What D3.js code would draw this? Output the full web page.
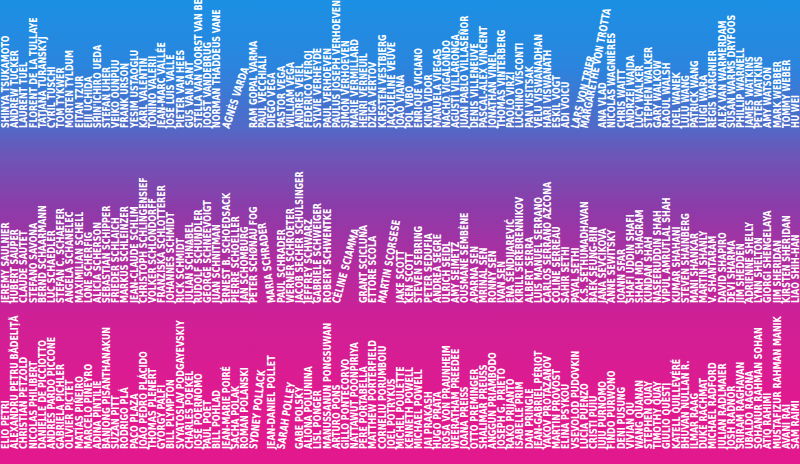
<!DOCTYPE html>
<html><head><meta charset="utf-8">
<script src="https://cdn.jsdelivr.net/npm/d3@7"></script>
<style>html,body{margin:0;padding:0;background:#e3188d;overflow:hidden}</style>
</head><body>
<svg id="c" width="800" height="464"></svg>
<script>
// ---- DATA: names per row, read left to right ("" = empty slot) ----
const topRow = ["SHINYA TSUKAMOTO","ANDREW TUCKER","LAURENT TUEL","FLORENT DE LA TULLAYE","TATJANA TURANSKYJ","CYRIL TUSCHI","TOM TYKWER","MORTEN TYLDUM","EITAN TZUR","EIJI UCHIDA","SHIN'ICHIRO UEDA","STEFAN UHER","VEIKO ÕUNPUU","FRANK URSON","YESIM USTAOĞLU","KARL VALENTIN","TONINO VALERII","JEAN-MARC VALLÉE","JOSÉ LUIS VALLE","PIETER VAN HEES","GUS VAN SANT","STELLA VAN VOORST VAN BEEST","JOOST VANDEBRUG","NORMAN THADDEUS VANE","AGNÈS VARDA","","","RAM GOPAL VARMA","PAUL VECCHIALI","DIEGO VEGA","PASTOR VEGA","WILLIAM VEGA","ANDRES VEIEL","FEDERICO VEIROJ","SYLVIE VERHEYDE","PAUL VERHOEVEN","PAULUS JOSEPH VERHOEVEN","SIMON VERHOEVEN","MARIE VERMILLARD","HENRI VERNEUIL","DZIGA VERTOV","KRESTEN VESTBJERG","JACQUELINE VEUVE","JOÃO VIANA","POL VIBO","ENRIQUE VICIANO","KING VIDOR","MANUELA VIEGAS","NACHO VIGALONDO","AGUSTÍ VILLARONGA","JUAN PABLO VILLASEÑOR","DENIS VILLENEUVE","PASCAL-ALEX VINCENT","JONATHAN VINEL","THOMAS VINTERBERG","PAOLO VIRZÌ","LUCHINO VISCONTI","PAN VISITSAK","VELU VISWANADHAN","HARI VISWANATH","ESKIL VOGT","ADI VOICU","LARS VON TRIER","MARGARETHE VON TROTTA","","ANA VLAD","NICOLAS WAGNIÈRES","CHRIS WAITT","ANDRZEJ WAJDA","LUCY WALKER","STEPHEN WALKER","GARY WALKOW","RAOUL WALSH","JOEL WANEK","LULU WANG","PATRICK WANG","LUIGI WARA","RÉGIS WARGNIER","ALEX VAN WARMERDAM","SUSAN WARMS DRYFOOS","PHILLIP WARNELL","JAMES WATKINS","PETER WATKINS","AMY WATSON","MARK WEBBER","TOMMY WEBER","HU WEI"];

const middleRow = ["JEREMY SAULNIER","HUBERT SAUPER","CLAUDE SAUTET","STEFANO SAVONA","BERND SCHAARMANN","LUC SCHAEDLER","STEFAN C. SCHAEFER","ANGELA SCHANELEC","MAXIMILIAN SCHELL","LONE SCHERFIG","ALICIA SCHERSON","SEBASTIAN SCHIPPER","FRIEDER SCHLAICH","MARKUS SCHLEINZER","JEAN-CLAUDE SCHLIM","CHRISTOPH SCHLINGENSIEF","VOLKER SCHLÖNDORFF","FRANZISKA SCHLOTTERER","JOHANNES SCHMIDT","RICK SCHMIDT","JULIAN SCHNABEL","RUDOLF SCHÜNDLER","GEORGE SCHNÉEVOIGT","JUAN SCHNITMAN","ERNEST B. SCHOEDSACK","PIERRE SCHOELLER","JAN SCHOMBURG","PETER SCHØNAU FOG","","MARIA SCHRADER","PAUL SCHRADER","WERNER SCHROETER","JACOB SECHER SCHULSINGER","JEFFREY SCHWARZ","GABRIELE SCHWEIGER","ROBERT SCHWENTKE","CÉLINE SCIAMMA","","","GRANT SCICLUNA","ETTORE SCOLA","MARTIN SCORSESE","","JAKE SCOTT","KEN SCOTT","STEVEN SEBRING","PETER SEDUFIA","ANDREA SEGRE","ULRICH SEIDL","AMY SEIMETZ","OUSMANE SEMBÈNE","APARNA SEN","MRINAL SEN","RONNY SEN","IVAN SEN","ENA ŠENDIJAREVIĆ","KIRILL SEREBRENNIKOV","ALBERT SERRA","LUIS MANUEL SERRANO","CARLOS SERRANO AZCONA","COLINE SERREAU","SAHIR SETHI","PAYAL SETHI","K.S. SETHUMADHAVAN","BAEK SEUNG-BIN","JANA ŠEVČÍKOVÁ","ANNE SEWITSKY","JOANN SFAR","SHAFI UDDIN SHAFI","SHAH MD. SHAGRAM","KUNDAN SHAH","NASEERUDDIN SHAH","VIPUL AMRUTLAL SHAH","KUMAR SHAHANI","STEVEN SHAINBERG","MANI SHANKAR","MARTIN SHANLY","V. SHANTARAM","DAVID SHAPIRO","DEVI SHARMA","JIM SHEDDEN","ADRIENNE SHELLY","LYNN SHELTON","GIORGI SHENGELAYA","JIM SHERIDAN","KIRSTEN SHERIDAN","LIAO SHIH-HAN"];

const bottomRow = ["ELIO PETRI","ALEXANDRU PETRU BĂDELIŢĂ","CHRISTIAN PETZOLD","NICOLAS PHILIBERT","DANIELLE DE PICCIOTTO","ANDRÉS PARDO PICCONE","GABRIELA PICHLER","OLIVIER PICTET","MATÍAS PIÑEIRO","MARCELO PIÑEYRO","ADINA PINTILIE","BANJONG PISANTHANAKUN","SUZAN PITT","RODRIGO PLÁ","PACO PLAZA","JOÃO PEDRO PLÁCIDO","THOMAS PLENERT","GYÖRGY PÁLFI","BILL PLYMPTON","SVYATOSLAV PODGAYEVSKIY","CHARLES POEKEL","JOSÉ POERNOMO","PAUL POET","BILL POHLAD","JEAN-MARIE POIRÉ","SACHA POLAK","ROMAN POLANSKI","SYDNEY POLLACK","","JEAN-DANIEL POLLET","SARAH POLLEY","","GABE POLSKY","ALIONA POLUNINA","LISL PONGER","MANUSSANUN PONGSUWAN","ARTURO PONS","GILLO PONTECORVO","NATTAWUT POONPIRIYA","PERE PORTABELLA","MATTHEW PORTERFIELD","CORNELIU PORUMBOIU","JOEL POTRYKUS","MICHEL POULETTE","KENNETH POWELL","MICHAEL POWELL","JAI PRAKASH","HUGO PRATA","ROSA VON PRAUNHEIM","WEERATHAM PREEDEE","JOANA PREISS","OTTO PREMINGER","SHALIMAR PREUSS","ANGGUN PRIAMBODO","JOSEPH G. PRIETO","RAKO PRIJANTO","ISABELLE PRIM","DAN PRINGLE","JEAN-GABRIEL PÉRIOT","YAKOV PROTAZANOV","MARTIN PROVOST","ELINA PSYKOU","VSEVOLOD PUDOVKIN","LUCÍA PUENZO","CRISTI PUIU","JUJU PURNOMO","FINDO PURWONO","DENI PUSUNG","VIVIAN QU","WANG QUANAN","STEPHEN QUAY","TIMOTHY QUAY","GIULIO QUESTI","KATELL QUILLÉVÉRÉ","BHUVAN NULLAN R.","ILMAR RAAG","DUKE RACHMAT","MICHAEL RADFORD","JULIAN RADLMAIER","JOSH RADNOR","SRIRAM RAGHAVAN","UBALDO RAGONA","SOHANUR RAHMAN SOHAN","ATIQ RAHIMI","MUSTAFIZUR RAHMAN MANIK","AVANI RAI","SAM RAIMI"];

const rows = [topRow, middleRow, bottomRow];

// ---- STYLE / LAYOUT ----
const W = 800, H = 464;
const leanDeg = {"AGNÈS VARDA":18,"LARS VON TRIER":13,"MARGARETHE VON TROTTA":11,"MARIA SCHRADER":-7,
  "CÉLINE SCIAMMA":15,"MARTIN SCORSESE":10,"SYDNEY POLLACK":6,"SARAH POLLEY":9};
const FONT = "'Liberation Sans Narrow','DejaVu Sans Condensed','Roboto Condensed','Arial Narrow',sans-serif";
const FS = 11.2;

const svg = d3.select("#c");
const defs = svg.append("defs");
const grad = defs.append("linearGradient").attr("id","bg").attr("x1",0).attr("y1",0).attr("x2",0).attr("y2",1);
[[0,"#1b90e4"],[0.14,"#2a85de"],[0.27,"#4f6ac8"],[0.33,"#6a57b7"],[0.45,"#8d3ba9"],
 [0.58,"#b42a9e"],[0.68,"#cf2096"],[0.85,"#df1a90"],[1,"#e3188d"]]
 .forEach(([o,c])=>grad.append("stop").attr("offset",o).attr("stop-color",c));
svg.append("rect").attr("width",W).attr("height",H).attr("fill","url(#bg)");

// font fit: scale text along its direction so condensed widths match the poster
const probe = svg.append("text").attr("font-family",FONT).attr("font-weight","bold").attr("font-size",FS);
const refs = [["SHINYA TSUKAMOTO",96],["JUAN PABLO VILLASEÑOR",116],["CHRISTOPH SCHLINGENSIEF",131],
              ["BANJONG PISANTHANAKUN",127],["MUSTAFIZUR RAHMAN MANIK",137],["PAULUS JOSEPH VERHOEVEN",125]];
let meas = 0, tgt = 0;
refs.forEach(([s,t])=>{probe.text(s); meas += probe.node().getComputedTextLength(); tgt += t;});
probe.remove();
const k = 0.975 * tgt / meas;

const x = d3.scalePoint().domain(d3.range(topRow.length)).range([5, 795]);
const y = d3.scaleOrdinal().domain([0,1,2]).range([128, 303, 449]);

rows.forEach((names, r) => {
  const g = svg.append("g");
  g.selectAll("text").data(names.map((n,i)=>({n,i})).filter(d=>d.n!==""))
    .join("text")
    .attr("transform", d => `translate(${x(d.i)},${y(r)}) rotate(${-90 + (leanDeg[d.n]||0)}) scale(${k},1)`)
    .attr("y", "0.36em")
    .attr("font-family", FONT).attr("font-weight","bold").attr("font-size", FS)
    .attr("fill", "#ffffff")
    .text(d => d.n);
});
</script>
</body></html>
